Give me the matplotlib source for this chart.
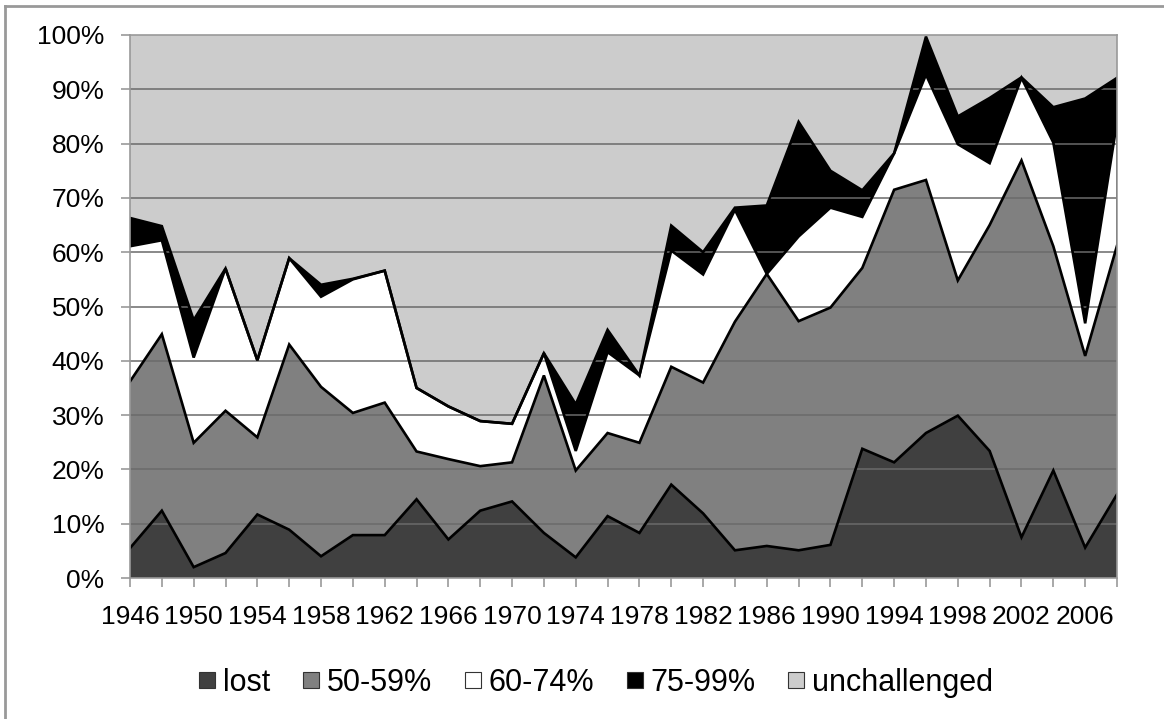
# Stacked area chart: share of seats by winning margin, 1946-2008
import numpy as np
import matplotlib
matplotlib.use('Agg')
import matplotlib.pyplot as plt
from matplotlib.lines import Line2D

plt.rcParams['font.family'] = ['Liberation Sans', 'DejaVu Sans']

# Election years (every 2 years)
years = [1946, 1948, 1950, 1952, 1954, 1956, 1958, 1960, 1962, 1964, 1966,
         1968, 1970, 1972, 1974, 1976, 1978, 1980, 1982, 1984, 1986, 1988,
         1990, 1992, 1994, 1996, 1998, 2000, 2002, 2004, 2006, 2008]

# Series values in percent
lost = [5.5, 12.4, 2.0, 4.6, 11.7, 8.9, 4.0, 7.9, 7.9, 14.5, 7.1,
        12.4, 14.1, 8.3, 3.8, 11.4, 8.3, 17.2, 11.9, 5.1, 5.9, 5.1,
        6.1, 23.8, 21.3, 26.7, 29.9, 23.4, 7.5, 19.8, 5.6, 15.4]
pct_50_59 = [30.7, 32.5, 22.9, 26.2, 14.2, 34.1, 31.2, 22.5, 24.4, 8.8, 14.8,
             8.2, 7.2, 29.0, 16.0, 15.3, 16.6, 21.7, 24.1, 42.1, 50.1, 42.2,
             43.7, 33.3, 50.2, 46.6, 24.9, 41.6, 69.4, 41.3, 35.3, 45.8]
pct_60_74 = [24.9, 17.3, 15.7, 26.2, 14.2, 15.9, 16.6, 24.6, 24.3, 11.7, 9.7,
             8.3, 7.1, 4.1, 3.6, 14.9, 12.4, 21.4, 19.9, 20.6, 0.0, 15.6,
             18.4, 9.4, 6.7, 19.4, 25.1, 11.4, 15.2, 19.1, 6.0, 22.8]
pct_75_99 = [5.2, 2.6, 6.9, 0.0, 0.0, 0.0, 2.2, 0.1, 0.0, 0.0, 0.0,
             0.0, 0.0, 0.0, 8.6, 4.1, 0.0, 4.6, 4.1, 0.4, 12.6, 21.1,
             6.8, 4.9, 0.0, 7.0, 5.1, 12.0, 0.1, 6.5, 41.4, 8.1]
unchallenged = [33.7, 35.2, 52.5, 43.0, 59.9, 41.1, 46.0, 44.9, 43.4, 65.0, 68.4,
                71.1, 71.6, 58.6, 68.0, 54.3, 62.7, 35.1, 40.0, 31.8, 31.4, 16.0,
                25.0, 28.6, 21.8, 0.3, 15.0, 11.6, 7.8, 13.3, 11.7, 7.9]

labels = ['lost', '50-59%', '60-74%', '75-99%', 'unchallenged']
colors = ['#404040', '#808080', '#ffffff', '#000000', '#cccccc']

series = np.array([lost, pct_50_59, pct_60_74, pct_75_99, unchallenged])
cum = np.cumsum(series, axis=0)
x = np.array(years)

fig = plt.figure(figsize=(11.64, 7.19), dpi=100)
ax = fig.add_axes([130/1164, 1-578/719, (1117-130)/1164, 543/719])

# Filled bands, then outline of each band top
lower = np.zeros(len(years))
for i in range(len(labels)):
    ax.fill_between(x, lower, cum[i], facecolor=colors[i], edgecolor='none',
                    linewidth=0, zorder=1)
    lower = cum[i]
for i in range(len(labels)-1):
    ax.plot(x, cum[i], color='black', linewidth=1.9, zorder=3,
            solid_joinstyle='miter')
# Excel closes the last band with a vertical edge on the right
ax.plot([x[-1], x[-1]], [cum[1][-1], cum[3][-1]], color='black',
        linewidth=1.9, zorder=3)

# Gridlines
for v in range(10, 100, 10):
    ax.axhline(v, color='#6a6a6a', linewidth=1.1, zorder=2)

ax.set_xlim(1946, 2008)
ax.set_ylim(0, 100)
ax.set_yticks(range(0, 101, 10))
ax.set_yticklabels([str(v) + '%' for v in range(0, 101, 10)])
ax.set_xticks(years)
ax.set_xticklabels([str(y) if (y - 1946) % 4 == 0 else '' for y in years])

ax.tick_params(axis='both', direction='out', length=6.5, width=1.2,
               color='#999999', labelsize=19, labelcolor='black')
ax.tick_params(axis='y', pad=12)
ax.tick_params(axis='x', pad=13)
for s in ax.spines.values():
    s.set_color('#999999')
    s.set_linewidth(1.2)
    s.set_zorder(4)

# Legend with square markers
handles = [Line2D([], [], linestyle='none', marker='s', markersize=11,
                  markerfacecolor=c, markeredgecolor='#333333',
                  markeredgewidth=0.8) for c in colors]
fig.legend(handles, labels, loc='center', bbox_to_anchor=(596/1164, 1-683/719),
           ncol=5, frameon=False, fontsize=22, handlelength=0.55,
           handletextpad=0.25, columnspacing=1.05, borderpad=0)

# Outer chart frame (left and top edges)
fig.add_artist(Line2D([5/1164, 5/1164], [0, 1-6/719], color='#999999',
                      linewidth=2, transform=fig.transFigure))
fig.add_artist(Line2D([5/1164, 1], [1-6/719, 1-6/719], color='#999999',
                      linewidth=2, transform=fig.transFigure))

fig.savefig('out.png', dpi=100, facecolor='white')
